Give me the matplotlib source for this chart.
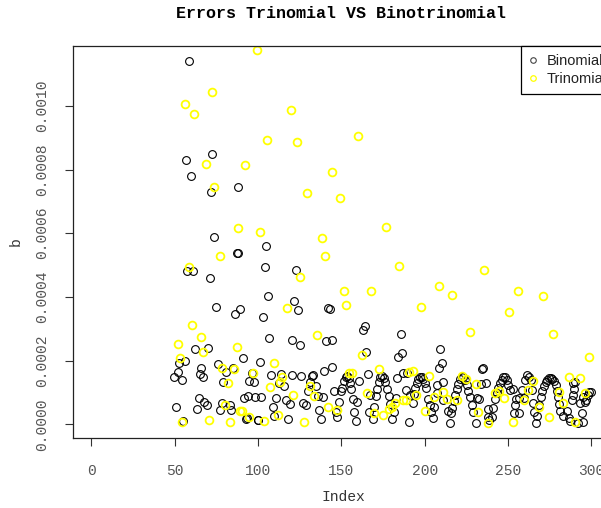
import numpy as np
import matplotlib
matplotlib.use("Agg")
import matplotlib.pyplot as plt
from matplotlib.lines import Line2D

plt.rcParams['font.family'] = 'Liberation Mono'

# Binomial errors (index, value in units of 1e-4)
binom_idx = [
    49.8, 50.8, 52.0, 52.8, 54.2, 55.2, 56.2, 57.0, 57.2, 58.6, 60.0, 61.2, 62.2, 63.2,
    64.4, 65.2, 66.0, 67.2, 67.8, 69.2, 70.2, 71.2, 72.0, 72.5, 73.6, 74.8, 76.0, 77.2,
    78.2, 79.2, 80.8, 83.2, 84.0, 84.8, 86.2, 87.2, 88.0, 88.2, 89.0,
    90.8, 91.8, 93.0, 93.4, 93.8, 94.8, 96.6, 97.8, 98.2, 99.8, 100.0, 101.2, 101.6,
    103.0, 104.2, 104.8, 105.8, 106.8, 108.0, 108.8, 109.8, 111.0, 112.4, 113.8, 115.8,
    116.8, 118.0, 119.2, 120.2, 120.6, 121.8, 122.8, 124.0, 125.2, 126.0, 126.8, 128.8,
    130.2, 131.2, 132.2, 133.2, 134.8, 135.8, 136.6, 137.6, 138.8, 139.8, 141.0, 141.8,
    143.0, 144.2, 144.6, 145.8, 146.8, 147.6, 148.8, 149.8,
    150.5, 151.5, 152.6, 153.5, 154.5, 155.5, 156.0, 156.8, 157.8, 158.8, 159.6, 160.4,
    162.8, 164.0, 165.0, 165.8, 166.4, 167.2, 168.8, 169.4, 170.6, 171.5, 172.5, 173.5,
    174.5, 175.5, 176.5, 177.5, 178.4, 179.5, 180.6, 181.4, 182.6, 183.2, 184.2, 185.6,
    186.6, 187.2, 188.8, 189.2,
    190.8, 191.2, 192.8, 193.6, 194.5, 195.4, 196.3, 197.2, 198.2, 199.1, 200.0, 201.0,
    202.0, 203.0, 204.0, 204.8, 205.8, 207.3, 207.6, 208.6, 209.5, 210.3, 211.2, 211.3,
    213.8, 215.2, 215.6, 216.5, 217.4, 218.3, 219.2, 220.2, 221.2, 222.2, 223.2, 224.2,
    225.2, 226.2, 227.2, 228.2, 229.2, 230.7, 231.3, 232.7, 233.8, 234.3, 235.2, 236.9,
    237.9, 238.2, 238.8, 240.6, 241.2, 242.2, 243.2, 244.2, 245.2, 246.2, 247.2, 248.2,
    249.2, 250.2, 251.2, 252.9, 253.3, 254.3, 254.9, 256.3, 256.7, 258.3, 259.7, 260.3,
    261.6, 262.6, 263.7, 264.3, 264.8, 265.3, 266.9, 267.3, 268.5, 269.5, 270.5, 271.5,
    272.5, 273.5, 274.5, 275.5, 276.5, 277.5, 278.5, 279.5, 280.2, 280.8, 281.3, 283.0,
    285.3, 286.3, 287.3, 288.3, 288.7, 289.0, 289.5, 290.3, 292.2, 293.3, 294.2, 294.9,
    295.2, 296.3, 296.8, 297.8, 298.8, 299.7,
]
binom_err = [
    1.48, 0.53, 1.64, 1.91, 1.39, 0.10, 2.00, 8.30, 4.80, 11.40, 7.80, 4.80, 2.36, 0.49,
    0.84, 1.58, 1.78, 1.50, 0.70, 0.62, 2.40, 4.61, 7.30, 8.50, 5.89, 3.69, 1.89, 0.45,
    0.66, 1.33, 1.64, 0.62, 0.45, 1.78, 3.45, 5.39, 7.45, 5.39, 3.62,
    2.09, 0.82, 0.17, 0.19, 0.89, 1.37, 1.61, 1.34, 0.87, 0.15, 0.13, 1.97, 0.87,
    3.36, 4.95, 5.59, 4.03, 2.71, 1.54, 0.55, 0.26, 0.83, 1.31, 1.57, 1.20,
    0.76, 0.18, 0.65, 1.56, 2.65, 3.87, 4.84, 3.60, 2.48, 1.51, 0.68, 0.62,
    1.04, 1.33, 1.53, 1.56, 1.21, 0.90, 0.45, 0.17, 0.86, 1.66, 2.62, 3.64,
    3.61, 2.64, 1.79, 1.04, 0.38, 0.22, 0.69, 1.04,
    1.15, 1.35, 1.49, 1.52, 1.45, 1.30, 1.12, 0.80, 0.40, 0.11, 0.69, 1.35,
    2.97, 3.09, 2.28, 1.57, 0.38, 0.92, 0.17, 0.55, 0.88, 1.12, 1.32, 1.47,
    1.52, 1.46, 1.32, 1.12, 0.89, 0.65, 0.17, 0.38, 0.83, 1.44, 2.12, 2.84,
    2.25, 1.62, 1.07, 1.60,
    0.08, 0.93, 0.68, 0.95, 1.15, 1.30, 1.42, 1.50, 1.50, 1.42, 1.30, 1.13,
    0.79, 0.62, 0.40, 0.19, 0.55, 1.23, 0.97, 1.78, 2.36, 1.92, 0.76, 1.34,
    0.43, 0.03, 0.35, 0.50, 0.72, 0.92, 1.10, 1.28, 1.42, 1.50, 1.48, 1.40,
    1.25, 1.05, 0.87, 0.62, 0.38, 0.03, 0.82, 0.79, 1.26, 1.74, 1.78, 1.31,
    0.24, 0.48, 0.13, 0.24, 0.50, 0.78, 0.98, 1.15, 1.30, 1.40, 1.47, 1.47,
    1.38, 1.25, 1.08, 1.10, 0.35, 0.61, 0.79, 0.82, 0.35, 1.08, 0.82, 1.39,
    1.55, 1.50, 1.39, 1.08, 0.68, 0.40, 0.03, 0.26, 0.60, 0.85, 1.05, 1.20,
    1.32, 1.40, 1.45, 1.46, 1.43, 1.35, 1.22, 1.05, 0.85, 0.64, 0.43, 0.25,
    0.43, 0.19, 0.11, 0.76, 0.92, 1.31, 1.10, 1.34, 0.03, 0.66, 0.35, 0.87,
    0.08, 0.71, 0.76, 0.92, 1.02, 1.00,
]

# Trinomial errors (index, value in units of 1e-4)
trinom_idx = [
    52.0, 53.0, 54.6, 56.2, 58.8, 60.2, 61.6, 66.0, 67.2, 69.0, 70.8, 72.6, 73.7, 77.2,
    78.6, 80.4, 81.8, 83.2, 85.6, 87.2, 88.2, 89.2, 90.2, 92.3, 94.7, 96.7, 99.2, 101.3,
    103.4, 105.2, 107.4, 109.4, 111.8, 113.0, 114.4, 117.4, 119.6, 121.2, 123.2, 125.2,
    127.8, 129.2, 131.0, 133.4, 135.6, 138.2, 140.4, 142.2, 144.2, 147.2, 149.2, 151.6,
    153.0, 154.4, 156.6, 159.8, 162.6, 165.4, 167.8, 169.8, 172.6, 174.8, 176.8, 178.8,
    180.2, 182.2, 184.4, 187.2, 188.8, 190.8, 192.8, 194.7, 197.7, 200.2, 202.6, 205.8,
    208.4, 211.2, 213.5, 216.2, 219.2, 222.2, 224.8, 227.4, 230.8, 232.3, 235.6, 238.2,
    242.2, 244.8, 247.4, 250.5, 253.2, 256.2, 259.5, 262.0, 265.2, 268.6, 271.2, 274.5,
    277.2, 280.8, 283.2, 286.8, 290.4, 293.2, 296.2, 298.8,
]
trinom_err = [
    2.52, 2.08, 0.06, 10.07, 4.93, 3.12, 9.73, 2.75, 2.26, 8.18, 0.14, 10.42, 7.45, 5.28,
    1.76, 0.62, 1.29, 0.08, 1.73, 2.43, 6.15, 0.42, 0.43, 8.14, 0.24, 1.61, 11.75, 6.04,
    0.09, 8.93, 1.17, 1.91, 0.30, 1.33, 1.49, 3.64, 9.87, 0.93, 8.86, 4.62,
    0.08, 7.25, 1.20, 0.88, 2.81, 5.84, 5.28, 0.53, 7.92, 0.44, 7.10, 4.18,
    3.76, 1.61, 1.61, 9.06, 2.17, 0.97, 4.18, 0.36, 1.75, 0.29, 6.19, 0.49,
    0.53, 0.68, 4.98, 0.75, 0.76, 1.65, 1.67, 0.91, 3.67, 0.43, 1.52, 0.87,
    4.33, 1.00, 0.80, 4.06, 0.75, 1.52, 1.42, 2.89, 1.28, 0.40, 4.84, 0.04,
    0.98, 1.06, 0.84, 3.53, 0.08, 4.19, 0.77, 1.08, 1.37, 0.53, 4.03, 0.22,
    2.84, 1.02, 0.68, 1.48, 0.08, 1.45, 0.97, 2.12,
]

x_ticks = [0, 50, 100, 150, 200, 250, 300]
y_ticks = [0.0, 0.0002, 0.0004, 0.0006, 0.0008, 0.0010]

W, H = 601, 508
fig = plt.figure(figsize=(W / 100, H / 100), dpi=100)
# plot region in pixels: left 73, right 613 (past the edge), top 46, bottom 438
ax = fig.add_axes([73 / W, (H - 438) / H, (613 - 73) / W, (438 - 46) / H])

ax.plot(binom_idx, np.array(binom_err) * 1e-4, 'o', mfc='none', mec='black',
        mew=0.8, ms=5.6, linestyle='none')
ax.plot(trinom_idx, np.array(trinom_err) * 1e-4, 'o', mfc='none', mec='#FFFF00',
        mew=1.3, ms=5.6, linestyle='none')

ax.set_xlim(-11.0, 313.0)
ax.set_ylim(-4.3e-5, 1.188e-3)

tick_col = '#555555'
ax.set_xticks(x_ticks)
ax.set_xticklabels([str(t) for t in x_ticks], fontsize=10.5, color=tick_col)
ax.set_yticks(y_ticks)
ax.set_yticklabels(['%.4f' % t for t in y_ticks], fontsize=10.5, color=tick_col,
                   rotation=90, va='center')
ax.tick_params(axis='both', length=6, width=0.8, color='#333333')
ax.tick_params(axis='x', pad=13)
ax.tick_params(axis='y', pad=11)
for s in ax.spines.values():
    s.set_linewidth(0.9)
    s.set_color('#222222')

fig.text(341 / W, 1 - 13 / H, 'Errors Trinomial VS Binotrinomial', ha='center',
         va='center', fontsize=12, fontweight='bold')
fig.text(343 / W, 1 - 497 / H, 'Index', ha='center', va='center', fontsize=10.5,
         color='#333333')
fig.text(16 / W, 1 - 242 / H, 'b', ha='center', va='center', fontsize=10.5,
         rotation=90, color='#333333')

handles = [
    Line2D([], [], marker='o', mfc='none', mec='#444444', mew=0.8, ms=4, linestyle='none'),
    Line2D([], [], marker='o', mfc='none', mec='#FFFF00', mew=0.9, ms=4, linestyle='none'),
]
leg = ax.legend(handles, ['Binomial', 'Trinomial'], loc='upper left',
                bbox_to_anchor=(521 / W, 1 - 46 / H), bbox_transform=fig.transFigure,
                frameon=True, fancybox=False, edgecolor='black', framealpha=1,
                borderaxespad=0, borderpad=0.55, handlelength=0.6, handletextpad=0.6,
                labelspacing=0.3, prop={'family': 'Liberation Sans', 'size': 10.5})
leg.get_frame().set_linewidth(0.9)
for t in leg.get_texts():
    t.set_color('#222222')

fig.savefig('out.png', dpi=100)
